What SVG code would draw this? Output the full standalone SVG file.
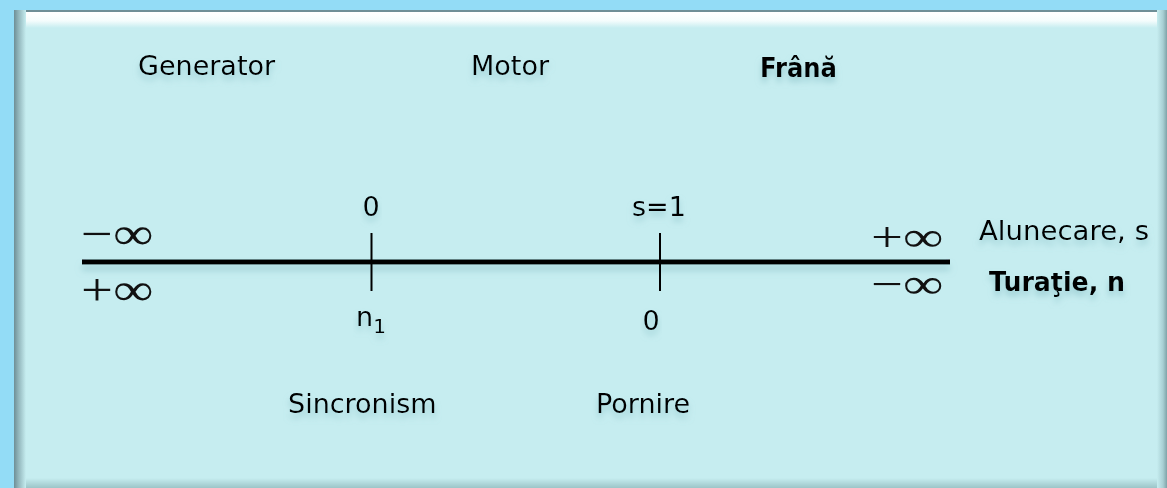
<svg xmlns="http://www.w3.org/2000/svg" width="1167" height="488" viewBox="0 0 1167 488">
  <style>
    .t { font-family: "DejaVu Sans", "Liberation Sans", sans-serif; font-size: 27px; fill: #000; filter: url(#sh); }
    .b { font-weight: bold; }
    .m { font-family: "Liberation Serif", "DejaVu Serif", serif; font-size: 42px; fill: #111; }
    .tick { stroke: #000; stroke-width: 2; }
  </style>
  <defs>
    <filter id="sh" x="-10%" y="-30%" width="120%" height="180%">
      <feDropShadow dx="0" dy="5" stdDeviation="3" flood-color="#7fb8c0" flood-opacity="0.6"/>
    </filter>
    <filter id="lsh" filterUnits="userSpaceOnUse" x="70" y="250" width="900" height="30">
      <feDropShadow dx="0" dy="6" stdDeviation="3" flood-color="#7fb8c0" flood-opacity="0.5"/>
    </filter>
    <linearGradient id="gTop" x1="0" y1="0" x2="0" y2="1">
      <stop offset="0" stop-color="#ffffff"/>
      <stop offset="0.55" stop-color="#f4fcfc"/>
      <stop offset="1" stop-color="#c6edf0"/>
    </linearGradient>
    <linearGradient id="gLeft" x1="0" y1="0" x2="1" y2="0">
      <stop offset="0" stop-color="#6e8e96"/>
      <stop offset="0.35" stop-color="#8fb3b9"/>
      <stop offset="1" stop-color="#c6edf0"/>
    </linearGradient>
    <linearGradient id="gRight" x1="0" y1="0" x2="1" y2="0">
      <stop offset="0" stop-color="#c6edf0"/>
      <stop offset="0.6" stop-color="#a8cfd3"/>
      <stop offset="1" stop-color="#7ea3a8"/>
    </linearGradient>
    <linearGradient id="gBot" x1="0" y1="0" x2="0" y2="1">
      <stop offset="0" stop-color="#c6edf0"/>
      <stop offset="1" stop-color="#9cc5c8"/>
    </linearGradient>
  </defs>

  <!-- background -->
  <rect x="0" y="0" width="1167" height="488" fill="#93dcf6"/>

  <!-- panel -->
  <g id="panel">
    <rect x="14" y="10" width="1153" height="478" fill="#c6edf0"/>
    <rect x="14" y="10" width="1153" height="2" fill="#6e8e96"/>
    <rect x="16" y="12" width="1151" height="16" fill="url(#gTop)"/>
    <rect x="14" y="10" width="12" height="478" fill="url(#gLeft)"/>
    <rect x="1157" y="10" width="10" height="478" fill="url(#gRight)"/>
    <rect x="26" y="478" width="1131" height="10" fill="url(#gBot)"/>
  </g>

  <!-- region labels -->
  <g id="generator"><text class="t" x="138" y="75">Generator</text></g>
  <g id="motor"><text class="t" x="471" y="75">Motor</text></g>
  <g id="frana"><text class="t b" x="760" y="77" textLength="77" lengthAdjust="spacingAndGlyphs">Frână</text></g>

  <!-- axis -->
  <g id="connectors">
    <line x1="82" y1="262" x2="950" y2="262" stroke="#000" stroke-width="5" filter="url(#lsh)"/>
    <line class="tick" x1="371.5" y1="233" x2="371.5" y2="291"/>
    <line class="tick" x1="660" y1="233" x2="660" y2="291"/>
  </g>

  <!-- tick labels -->
  <g id="tick-sync">
    <text class="t" x="371" y="216" text-anchor="middle">0</text>
    <text class="t" x="356" y="326">n<tspan font-size="20" dy="7">1</tspan></text>
  </g>
  <g id="tick-start">
    <text class="t" x="632" y="216">s=1</text>
    <text class="t" x="651" y="330" text-anchor="middle">0</text>
  </g>

  <!-- infinities -->
  <g id="inf-left">
    <text class="m" transform="translate(81,249) scale(1.35,1.08)">−∞</text>
    <text class="m" transform="translate(81,305) scale(1.35,1.08)">+∞</text>
  </g>
  <g id="inf-right">
    <text class="m" transform="translate(871,251) scale(1.35,1)">+∞</text>
    <text class="m" transform="translate(871,298) scale(1.35,1)">−∞</text>
  </g>

  <!-- axis names -->
  <g id="axis-s"><text class="t" x="979" y="240" textLength="170" lengthAdjust="spacingAndGlyphs">Alunecare, s</text></g>
  <g id="axis-n"><text class="t b" x="989" y="291" textLength="136" lengthAdjust="spacingAndGlyphs">Turaţie, n</text></g>

  <!-- point names -->
  <g id="sincronism"><text class="t" x="288" y="413">Sincronism</text></g>
  <g id="pornire"><text class="t" x="596" y="413">Pornire</text></g>
</svg>
